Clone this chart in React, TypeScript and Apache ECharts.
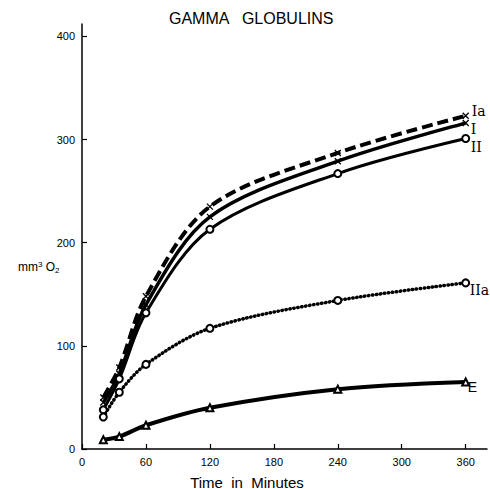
import React, { useEffect, useRef } from "react";
import * as echarts from "echarts";

const times = [20, 35, 60, 120, 240, 360];
const seriesIa = [50, 79, 148, 235, 287, 323];
const seriesI = [45, 73, 140, 225, 279, 316];
const seriesII = [38, 68, 132, 213, 267, 301];
const seriesIIa = [31, 55, 82, 117, 144, 161];
const seriesE = [9, 12, 23, 40, 58, 65];
const xTicks = [0, 60, 120, 180, 240, 300, 360];
const yTicks = [0, 100, 200, 300, 400];

const X_SYMBOL = "path://M0,0L10,10M10,0L0,10";

function pairs(vals: number[]) {
  return times.map((t, i) => [t, vals[i]]);
}

export default function App() {
  const ref = useRef<HTMLDivElement>(null);
  useEffect(() => {
    if (!ref.current) return;
    const chart = echarts.init(ref.current, null, { renderer: "svg" });
    const endLabel = (text: string, offset: number[], fam = "DejaVu Serif") => ({
      show: true,
      formatter: text,
      offset,
      fontFamily: fam,
      fontSize: 14,
      color: "#000",
      distance: 4,
    });
    const base = {
      type: "line",
      smooth: 0.32,
      symbolKeepAspect: true,
      z: 2,
    };
    chart.setOption({
      animation: false,
      backgroundColor: "#fff",
      title: {
        text: "GAMMA   GLOBULINS",
        left: 164,
        top: 5,
        textStyle: {
          fontFamily: "Liberation Sans",
          fontWeight: "normal",
          fontSize: 16,
          color: "#000",
        },
      },
      grid: { left: 82, top: 24, width: 405, height: 425, containLabel: false },
      xAxis: {
        type: "value",
        min: 0,
        max: 380,
        interval: 60,
        axisLine: { lineStyle: { color: "#000", width: 1.5 } },
        axisTick: { inside: true, length: 5, customValues: xTicks, lineStyle: { color: "#000", width: 1.2 } },
        axisLabel: {
          customValues: xTicks,
          margin: 7,
          fontFamily: "Liberation Sans",
          fontSize: 11,
          color: "#000",
        },
        splitLine: { show: false },
      },
      yAxis: {
        type: "value",
        min: 0,
        max: 412,
        interval: 100,
        axisLine: { show: true, lineStyle: { color: "#000", width: 1.5 } },
        axisTick: { show: true, inside: true, length: 5, customValues: yTicks, lineStyle: { color: "#000", width: 1.2 } },
        axisLabel: {
          customValues: yTicks,
          margin: 7,
          fontFamily: "Liberation Sans",
          fontSize: 11,
          color: "#000",
        },
        splitLine: { show: false },
      },
      graphic: [
        {
          type: "text",
          x: 247,
          y: 482,
          style: {
            text: "Time  in  Minutes",
            fontFamily: "Liberation Sans",
            fontSize: 15,
            fill: "#000",
            align: "center",
            verticalAlign: "middle",
          },
        },
        {
          type: "text",
          left: 18,
          top: 260,
          style: {
            text: "mm{sup|3} O{sub|2}",
            fontFamily: "Liberation Sans",
            fontSize: 12,
            fill: "#000",
            rich: {
              sup: { fontSize: 8, fontFamily: "Liberation Sans", verticalAlign: "top", padding: [0, 0, 6, 0] },
              sub: { fontSize: 8, fontFamily: "Liberation Sans", padding: [6, 0, 0, 0] },
            },
          },
        },
      ],
      series: [
        {
          ...base,
          name: "Ia",
          data: pairs(seriesIa),
          symbol: X_SYMBOL,
          symbolSize: 6,
          itemStyle: { color: "#000", borderColor: "#000", borderWidth: 1.3 },
          lineStyle: { color: "#000", width: 4, type: [11, 5] },
          endLabel: endLabel("Ia", [2, -5]),
        },
        {
          ...base,
          name: "I",
          data: pairs(seriesI),
          symbol: X_SYMBOL,
          symbolSize: 6,
          itemStyle: { color: "#000", borderColor: "#000", borderWidth: 1.3 },
          lineStyle: { color: "#000", width: 3.5 },
          endLabel: endLabel("I", [1, 6]),
        },
        {
          ...base,
          name: "II",
          data: pairs(seriesII),
          symbol: "emptyCircle",
          symbolSize: 7,
          itemStyle: { color: "#000", borderColor: "#000", borderWidth: 1.3 },
          lineStyle: { color: "#000", width: 3 },
          endLabel: endLabel("II", [1, 8]),
        },
        {
          ...base,
          name: "IIa",
          data: pairs(seriesIIa),
          symbol: "emptyCircle",
          symbolSize: 7,
          itemStyle: { color: "#000", borderColor: "#000", borderWidth: 1.3 },
          lineStyle: { color: "#000", width: 3.5, type: [0.5, 3.5], cap: "round" },
          endLabel: endLabel("IIa", [0, 7]),
        },
        {
          ...base,
          name: "E",
          data: pairs(seriesE),
          symbol: "emptyTriangle",
          symbolSize: 7,
          itemStyle: { color: "#000", borderColor: "#000", borderWidth: 1.3 },
          lineStyle: { color: "#000", width: 4 },
          endLabel: endLabel("E", [-2, 5], "Liberation Sans"),
        },
      ],
    });
    return () => chart.dispose();
  }, []);
  return (
    <div
      ref={ref}
      style={{ position: "fixed", left: 0, top: 0, width: 490, height: 489, background: "#fff" }}
    />
  );
}
